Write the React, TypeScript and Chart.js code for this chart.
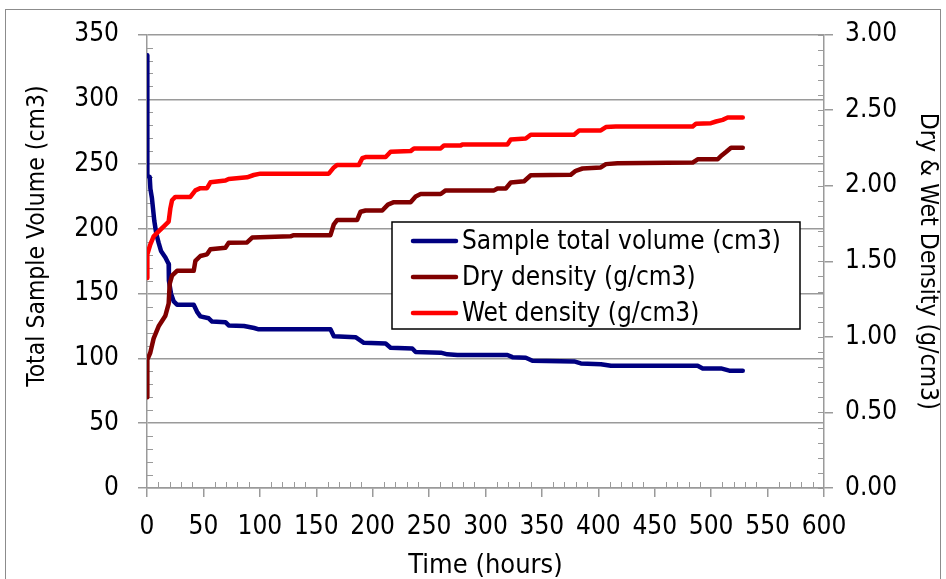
import React, { useEffect, useRef } from "react";
import { Chart, registerables } from "chart.js";

Chart.register(...registerables);

// ---- Data ----
const seriesLabels = [
  "Sample total volume (cm3)",
  "Dry density (g/cm3)",
  "Wet density (g/cm3)",
];
const xTitle = "Time (hours)";
const yLeftTitle = "Total Sample Volume (cm3)";
const yRightTitle = "Dry & Wet Density (g/cm3)";

const volumeTime = [
  0, 0.3, 2.4, 3, 4.4, 5.3, 6.5, 8.3, 10.4, 12.4, 16.3, 19.2, 19.4, 21.3, 23.7,
  26.6, 41.4, 44.4, 47.3, 54.7, 57.7, 69.5, 72.4, 86, 95, 99, 162.6, 165.6,
  184.8, 192.2, 211.5, 215.9, 235.1, 238.1, 260.3, 266.2, 275.1, 319.4, 323.9,
  335.7, 341.6, 378.6, 384.5, 402.3, 411.2, 488, 492.5, 508.7, 516.1, 528,
];
const volumeValues = [
  334, 241, 240, 231, 223.5, 216, 206, 196, 189, 183, 178, 173, 160, 150, 144,
  141.5, 141.5, 136, 132.5, 131, 128.5, 128, 125.5, 125, 123.5, 122.5, 122.5,
  117.2, 116.4, 112.1, 111.5, 108.3, 107.7, 105, 104.5, 103.2, 102.7, 102.7,
  101, 100.5, 98.2, 97.7, 96.2, 95.6, 94.4, 94.4, 92.3, 92.3, 90.6, 90.6,
];

const dryTime = [
  0, 0.3, 2.9, 5.9, 10.3, 16.3, 19.2, 20.1, 22.2, 26.6, 41.4, 42.9, 47.3, 53.2,
  56.2, 69.5, 72.4, 88.7, 93.2, 127.2, 130.1, 162.6, 165.6, 168.6, 186.3, 189.3,
  193.7, 208.5, 213.5, 218.8, 233.6, 238.1, 242.5, 260.3, 264.7, 307.6, 310.6,
  318, 322.4, 334.2, 340.1, 375.6, 380, 386, 402.2, 406.7, 417, 483.6, 488,
  505.8, 508.7, 513.1, 517.6, 528,
];
const dryValues = [
  0.6, 0.85, 0.895, 0.99, 1.07, 1.14, 1.22, 1.35, 1.405, 1.437, 1.437, 1.503,
  1.535, 1.546, 1.579, 1.59, 1.622, 1.625, 1.657, 1.665, 1.673, 1.673, 1.745,
  1.774, 1.774, 1.828, 1.836, 1.836, 1.875, 1.891, 1.891, 1.929, 1.945, 1.945,
  1.969, 1.969, 1.982, 1.982, 2.021, 2.03, 2.069, 2.072, 2.099, 2.114, 2.121,
  2.143, 2.149, 2.153, 2.175, 2.175, 2.197, 2.223, 2.251, 2.251,
];

const wetTime = [
  0, 0.3, 2.9, 5.9, 10.3, 14.7, 19.2, 20.7, 22.2, 25.1, 38.4, 42.9, 47.3, 53.2,
  56.2, 69.5, 72.4, 88.7, 94.6, 100.5, 161.1, 165.6, 168.6, 187.8, 190.8, 193.7,
  211.5, 215.9, 233.6, 236.6, 260.3, 263.2, 278, 279.5, 319.4, 322.4, 335.7,
  340.1, 378.5, 383, 402.2, 406.7, 415.5, 483.6, 486.5, 499.8, 504.3, 510.2,
  514.6, 528,
];
const wetValues = [
  1.39, 1.546, 1.611, 1.665, 1.698, 1.73, 1.763, 1.85, 1.904, 1.926, 1.926,
  1.969, 1.984, 1.984, 2.023, 2.034, 2.045, 2.056, 2.071, 2.08, 2.08, 2.121,
  2.138, 2.138, 2.182, 2.19, 2.19, 2.225, 2.229, 2.247, 2.247, 2.266, 2.266,
  2.273, 2.273, 2.306, 2.312, 2.338, 2.338, 2.366, 2.366, 2.388, 2.392, 2.392,
  2.41, 2.414, 2.425, 2.436, 2.451, 2.451,
];

const seriesColors = ["#000080", "#800000", "#FF0000"];

const FONT = '"DejaVu Sans Condensed", "DejaVu Sans", sans-serif';
const GRID = "#9a9a9a";
const TICK_SIZE = 26;
const TITLE_SIZE = 27;
const VTITLE_SIZE = 24.5;
const LEGEND_SIZE = 26;

const toPoints = (xs: number[], ys: number[]) =>
  xs.map((x, i) => ({ x, y: ys[i] }));

const framePlugin = {
  id: "frame",
  beforeDraw(chart: any) {
    const ctx = chart.ctx;
    ctx.save();
    ctx.fillStyle = "#ffffff";
    ctx.fillRect(0, 0, chart.width, chart.height);
    ctx.strokeStyle = "#8c8c8c";
    ctx.lineWidth = 1;
    ctx.strokeRect(5.5, 9.5, 935, 640);
    ctx.restore();
  },
};

const minorTicksPlugin = {
  id: "minorTicks",
  beforeDatasetsDraw(chart: any) {
    const { ctx, chartArea, scales } = chart;
    ctx.save();
    ctx.strokeStyle = GRID;
    ctx.lineWidth = 1;
    ctx.beginPath();
    const y = scales.y;
    for (let v = 0; v <= 350; v += 10) {
      if (v % 50 === 0) continue;
      const py = Math.round(y.getPixelForValue(v)) + 0.5;
      ctx.moveTo(chartArea.left, py);
      ctx.lineTo(chartArea.left + 6, py);
    }
    const y1 = scales.y1;
    for (let i = 0; i <= 30; i++) {
      const py = Math.round(y1.getPixelForValue(i / 10)) + 0.5;
      ctx.moveTo(chartArea.right - 6, py);
      ctx.lineTo(chartArea.right, py);
    }
    const x = scales.x;
    for (let t = 0; t <= 600; t += 10) {
      if (t % 50 === 0) continue;
      const px = Math.round(x.getPixelForValue(t)) + 0.5;
      ctx.moveTo(px, chartArea.bottom);
      ctx.lineTo(px, chartArea.bottom - 6);
    }
    ctx.stroke();
    ctx.restore();
  },
};

// left axis title (the reference places it a little above the plot centre)
const leftTitlePlugin = {
  id: "leftTitle",
  afterDraw(chart: any) {
    const ctx = chart.ctx;
    ctx.save();
    ctx.translate(38, 236);
    ctx.rotate(-Math.PI / 2);
    ctx.font = `${VTITLE_SIZE}px ${FONT}`;
    ctx.fillStyle = "#000";
    ctx.textAlign = "center";
    ctx.textBaseline = "middle";
    ctx.fillText(yLeftTitle, 0, 0);
    ctx.restore();
  },
};

const legendPlugin = {
  id: "boxLegend",
  afterDraw(chart: any) {
    const ctx = chart.ctx;
    const bx = 392;
    const by = 222;
    const bw = 408;
    const bh = 107;
    ctx.save();
    ctx.fillStyle = "#ffffff";
    ctx.fillRect(bx, by, bw, bh);
    ctx.strokeStyle = "#000000";
    ctx.lineWidth = 1.5;
    ctx.strokeRect(bx, by, bw, bh);
    ctx.font = `${LEGEND_SIZE}px ${FONT}`;
    ctx.textBaseline = "middle";
    ctx.textAlign = "left";
    chart.data.datasets.forEach((ds: any, i: number) => {
      const yy = 241 + i * 36;
      ctx.strokeStyle = ds.borderColor;
      ctx.lineWidth = 4.5;
      ctx.lineCap = "round";
      ctx.beginPath();
      ctx.moveTo(413, yy);
      ctx.lineTo(456, yy);
      ctx.stroke();
      ctx.fillStyle = "#000000";
      ctx.fillText(ds.label, 462, yy + 1);
    });
    ctx.restore();
  },
};

export default function App() {
  const canvasRef = useRef<HTMLCanvasElement | null>(null);

  useEffect(() => {
    if (!canvasRef.current) return;
    Chart.defaults.font.family = FONT;
    const chart = new Chart(canvasRef.current, {
      type: "line",
      data: {
        datasets: [
          {
            label: seriesLabels[0],
            data: toPoints(volumeTime, volumeValues),
            borderColor: seriesColors[0],
            backgroundColor: seriesColors[0],
            yAxisID: "y",
            order: 3,
          },
          {
            label: seriesLabels[1],
            data: toPoints(dryTime, dryValues),
            borderColor: seriesColors[1],
            backgroundColor: seriesColors[1],
            yAxisID: "y1",
            order: 2,
          },
          {
            label: seriesLabels[2],
            data: toPoints(wetTime, wetValues),
            borderColor: seriesColors[2],
            backgroundColor: seriesColors[2],
            yAxisID: "y1",
            order: 1,
          },
        ] as any,
      },
      options: {
        animation: false,
        responsive: false,
        events: [],
        layout: { padding: { top: 27, left: 0, right: 0, bottom: 0 } },
        elements: {
          point: { radius: 0 },
          line: {
            borderWidth: 4.5,
            tension: 0,
            borderJoinStyle: "round",
            borderCapStyle: "round",
          },
        },
        plugins: {
          legend: { display: false },
          tooltip: { enabled: false },
        },
        scales: {
          x: {
            type: "linear",
            min: 0,
            max: 600,
            ticks: {
              stepSize: 50,
              color: "#000",
              font: { size: TICK_SIZE },
              padding: 15,
              maxRotation: 0,
              autoSkip: false,
            },
            grid: {
              drawOnChartArea: false,
              drawTicks: true,
              tickLength: 9,
              color: GRID,
              lineWidth: 1.5,
            },
            border: { color: GRID, width: 1.5 },
            title: {
              display: true,
              text: xTitle,
              color: "#000",
              font: { size: TITLE_SIZE },
              padding: { top: 0, bottom: -3 },
            },
            afterFit(scale: any) {
              scale.height = 91;
            },
          },
          y: {
            type: "linear",
            position: "left",
            min: 0,
            max: 350,
            ticks: {
              stepSize: 50,
              color: "#000",
              font: { size: TICK_SIZE },
              padding: 19,
            },
            grid: {
              color: GRID,
              lineWidth: 1.5,
              tickLength: 9,
            },
            border: { color: GRID, width: 1.5 },
            afterFit(scale: any) {
              scale.width = 147;
            },
          },
          y1: {
            type: "linear",
            position: "right",
            min: 0,
            max: 3,
            ticks: {
              stepSize: 0.5,
              color: "#000",
              font: { size: TICK_SIZE },
              padding: 12,
              callback: (v: any) => Number(v).toFixed(2),
            },
            grid: {
              drawOnChartArea: false,
              color: GRID,
              lineWidth: 1.5,
              tickLength: 9,
            },
            border: { color: GRID, width: 1.5 },
            title: {
              display: true,
              text: yRightTitle,
              color: "#000",
              font: { size: VTITLE_SIZE },
              padding: { top: 4, bottom: 0 },
            },
            afterFit(scale: any) {
              scale.width = 122;
            },
          },
        },
      } as any,
      plugins: [framePlugin, minorTicksPlugin, leftTitlePlugin, legendPlugin],
    });
    return () => chart.destroy();
  }, []);

  return (
    <div style={{ position: "fixed", left: 0, top: 0, width: 946, height: 579 }}>
      <canvas ref={canvasRef} width={946} height={579} style={{ display: "block" }} />
    </div>
  );
}
